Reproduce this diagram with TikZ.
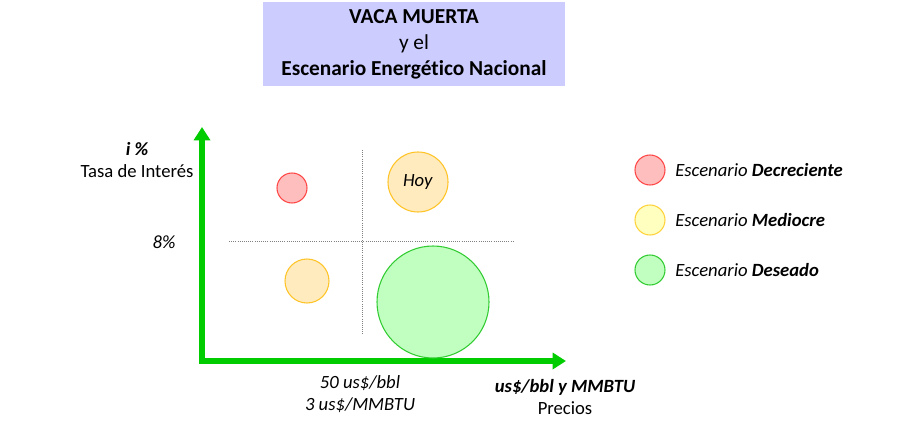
\documentclass[tikz,border=0pt]{standalone}
\usepackage{fontspec}
\setmainfont{Carlito}[RawFeature={-liga;-clig;-dlig}]
\usetikzlibrary{arrows.meta}
\definecolor{verdeeje}{RGB}{0,204,0}
\definecolor{lila}{RGB}{204,204,255}
\definecolor{rojoborde}{RGB}{255,70,70}
\definecolor{rojofondo}{RGB}{255,190,190}
\definecolor{naranjaborde}{RGB}{255,196,40}
\definecolor{naranjafondo}{RGB}{255,235,190}
\definecolor{amarilloborde}{RGB}{255,210,60}
\definecolor{amarillofondo}{RGB}{255,255,192}
\definecolor{verdeborde}{RGB}{50,204,50}
\definecolor{verdefondo}{RGB}{192,255,192}
\tikzset{
  eje/.style={verdeeje, line width=3.8pt, line join=miter,
    {Triangle[length=10pt,width=12pt]}-{Triangle[length=10pt,width=12pt]}},
  guia/.style={gray, densely dotted, line width=0.6pt},
  burbuja/.style={circle, draw, line width=0.8pt, inner sep=0pt},
  texto/.style={inner sep=0pt, align=center}
}
\begin{document}
\begin{tikzpicture}[x=0.75pt,y=-0.75pt,font=\fontsize{14}{17}\selectfont]
\useasboundingbox (0,0) rectangle (899,432);
% titulo
\node[fill=lila, minimum width=226.5pt, minimum height=63pt, align=center,
  font=\fontsize{16}{19.5}\selectfont] (titulo) at (414,44)
  {\textbf{VACA MUERTA}\\ y el\\ \textbf{Escenario Energético Nacional}};
% ejes
\coordinate (origen) at (202,361);
\coordinate (ytope) at (202,127);
\coordinate (xtope) at (566,361);
\draw[eje] (ytope) -- (origen) -- (xtope);
% guias
\coordinate (g1) at (229,241);
\coordinate (g2) at (514,241);
\coordinate (g3) at (362,150);
\coordinate (g4) at (362,335);
\draw[guia] (g1) -- (g2);
\draw[guia] (g3) -- (g4);
% burbujas
\node[burbuja, draw=rojoborde, fill=rojofondo, minimum size=22.5pt] (decreciente) at (292,188) {};
\node[burbuja, draw=naranjaborde, fill=naranjafondo, minimum size=45pt] (hoy) at (418,182) {\textit{Hoy}};
\node[burbuja, draw=naranjaborde, fill=naranjafondo, minimum size=33pt] (mediocre) at (307,281) {};
\node[burbuja, draw=verdeborde, fill=verdefondo, minimum size=84pt] (deseado) at (433,302) {};
% etiquetas de ejes
\node[texto] (tasa) at (137,160) {\textbf{\textit{i \%}}\\ Tasa de Interés};
\node[texto] (ocho) at (164,242) {\textit{8\%}};
\node[texto, font=\fontsize{14}{16}\selectfont] (precio) at (360,394) {\textit{50 us\$/bbl}\\ \textit{3 us\$/MMBTU}};
\node[texto] (unidades) at (565,397) {\textbf{\textit{us\$/bbl y MMBTU}}\\ Precios};
% leyenda
\foreach \y/\b/\f/\t/\n in {170/rojoborde/rojofondo/Decreciente/a,
    220/amarilloborde/amarillofondo/Mediocre/b,
    270/verdeborde/verdefondo/Deseado/c}
{
  \node[burbuja, draw=\b, fill=\f, minimum size=22.5pt] (ley\n) at (650,\y) {};
  \node[texto, anchor=west] (leytexto\n) at (675,\y) {\textit{Escenario \textbf{\t}}};
}
\end{tikzpicture}
\end{document}
